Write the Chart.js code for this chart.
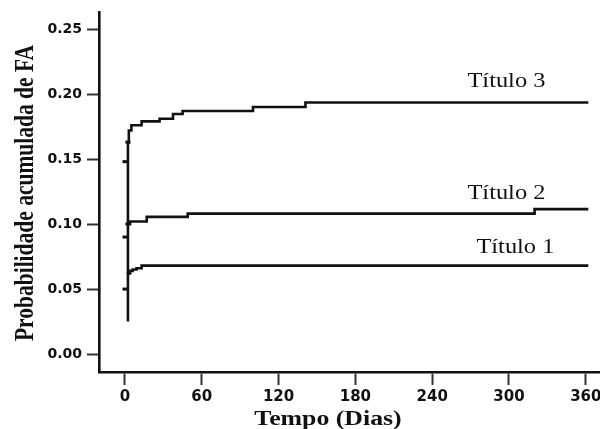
<!DOCTYPE html>
<html><head><meta charset="utf-8">
<script src="https://cdn.jsdelivr.net/npm/chart.js@4.4.0/dist/chart.umd.min.js"></script>
<style>html,body{margin:0;padding:0;background:#fff;}#wrap{width:600px;height:429px;}</style>
</head><body><div id="wrap"><canvas id="c" width="600" height="429"></canvas></div>
<script>
// ---- data ----
const seriesNames = ['Título 1', 'Título 2', 'Título 3'];
const t1Days = [2.3, 2.3, 4, 6, 9, 13, 362];
const t1Vals = [0.025, 0.062, 0.064, 0.065, 0.066, 0.068, 0.068];
const t2Days = [2.3, 2.3, 4, 17, 49, 320, 362];
const t2Vals = [0.062, 0.100, 0.102, 0.1055, 0.108, 0.1115, 0.1115];
const t3Days = [2.3, 2.3, 3, 5, 13, 27, 37.5, 45, 100, 141, 362];
const t3Vals = [0.100, 0.163, 0.172, 0.176, 0.179, 0.181, 0.1846, 0.187, 0.190, 0.1935, 0.1935];
const markDays = [0, 0, 0, 2.3, 2.3];
const markVals = [0.05, 0.09, 0.148, 0.100, 0.163];
const labelDays = [305, 298, 298];
const labelVals = [0.078, 0.119, 0.2055];
const xTicks = [0, 60, 120, 180, 240, 300, 360];
const yTicks = [0, 0.05, 0.10, 0.15, 0.20, 0.25];
const xTitle = 'Tempo (Dias)';
const yTitle = 'Probabilidade acumulada de FA';

const toPts = (d, v) => d.map((x, i) => ({x, y: v[i]}));
const lineDs = (label, d, v) => ({
  label, data: toPts(d, v), stepped: 'before', borderColor: '#111',
  borderWidth: 2.6, pointRadius: 0, fill: false, tension: 0
});

const textPlugin = {
  id: 'texts',
  afterDraw(chart) {
    const ctx = chart.ctx, xs = chart.scales.x, ys = chart.scales.y, ca = chart.chartArea;
    ctx.save();
    ctx.fillStyle = '#111';
    seriesNames.forEach((n, i) => {
      const px = xs.getPixelForValue(labelDays[i]);
      const py = ys.getPixelForValue(labelVals[i]);
      ctx.save();
      ctx.translate(px, py); ctx.scale(1.22, 1);
      ctx.font = '20px "Liberation Serif"';
      ctx.textAlign = 'center'; ctx.textBaseline = 'alphabetic';
      ctx.fillText(n, 0, 0);
      ctx.restore();
    });
    // x title
    ctx.save();
    ctx.translate(ca.left + 229, chart.height - 4); ctx.scale(1.29, 1);
    ctx.font = 'bold 20px "Liberation Serif"';
    ctx.textAlign = 'center'; ctx.textBaseline = 'alphabetic';
    ctx.fillText(xTitle, 0, 0);
    ctx.restore();
    // y title
    ctx.save();
    ctx.translate(33, (ca.top + ca.bottom) / 2 + 1);
    ctx.rotate(-Math.PI / 2); ctx.scale(1, 1.3);
    ctx.font = 'bold 21.5px "Liberation Serif"';
    ctx.textAlign = 'center'; ctx.textBaseline = 'alphabetic';
    ctx.fillText(yTitle, 0, 0);
    ctx.restore();
    ctx.restore();
  }
};

new Chart(document.getElementById('c'), {
  type: 'line',
  data: {
    datasets: [
      lineDs(seriesNames[0], t1Days, t1Vals),
      lineDs(seriesNames[1], t2Days, t2Vals),
      lineDs(seriesNames[2], t3Days, t3Vals),
      {
        label: 'censor', type: 'scatter', data: toPts(markDays, markVals),
        pointStyle: 'line', pointRadius: 2.5, pointBorderWidth: 3,
        pointHoverRadius: 0, borderColor: '#111', backgroundColor: '#111', showLine: false
      }
    ]
  },
  options: {
    responsive: false, animation: false, devicePixelRatio: 1,
    layout: {autoPadding: false, padding: {top: 12, right: 0, left: 0, bottom: 0}},
    plugins: {legend: {display: false}, tooltip: {enabled: false}},
    scales: {
      x: {
        type: 'linear', min: -20.3, max: 371.1,
        afterBuildTicks: s => { s.ticks = xTicks.map(v => ({value: v})); },
        afterFit: s => { s.height = 57; s.paddingLeft = 0; s.paddingRight = 0; },
        grid: {drawOnChartArea: false, drawTicks: true, tickLength: 13, tickWidth: 2, tickColor: '#333'},
        border: {display: true, color: '#111', width: 2.6},
        ticks: {color: '#111', padding: 3, maxRotation: 0, autoSkip: false,
          font: {family: 'DejaVu Sans', weight: 'bold', size: 15}}
      },
      y: {
        type: 'linear', min: -0.0138, max: 0.2631,
        afterBuildTicks: s => { s.ticks = yTicks.map(v => ({value: v})); },
        afterFit: s => { s.width = 99; s.paddingTop = 0; s.paddingBottom = 0; },
        grid: {drawOnChartArea: false, drawTicks: true, tickLength: 12, tickWidth: 2, tickColor: '#333'},
        border: {display: true, color: '#111', width: 2.6},
        ticks: {color: '#111', padding: 5, autoSkip: false,
          font: {family: 'DejaVu Sans', weight: 'bold', size: 14},
          callback: v => v.toFixed(2)}
      }
    }
  },
  plugins: [textPlugin]
});
</script></body></html>
